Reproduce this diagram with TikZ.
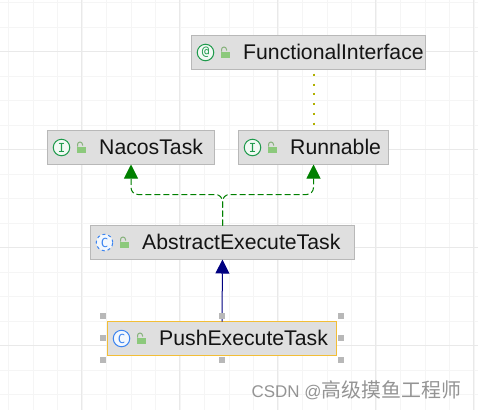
\documentclass[tikz,border=0pt]{standalone}
\usepackage{fontspec}
\setmainfont{Liberation Sans}
\newfontfamily\cjk{Noto Sans CJK SC}
\newfontfamily\ringfont{DejaVu Sans Mono}
\definecolor{boxfill}{HTML}{DFDFDF}
\definecolor{boxline}{HTML}{B8B8B8}
\definecolor{selline}{HTML}{F2BE37}
\definecolor{gridminor}{HTML}{F5F5F5}
\definecolor{gridmajor}{HTML}{E9E9E9}
\definecolor{implgreen}{HTML}{008000}
\definecolor{extnavy}{HTML}{000080}
\definecolor{annotolive}{HTML}{B0B000}
\definecolor{ringgreen}{HTML}{1F9A4C}
\definecolor{ringblue}{HTML}{3D85F0}
\definecolor{lockgreen}{HTML}{8CC97C}
\usetikzlibrary{arrows.meta}
\tikzset{
  classbox/.style={draw=boxline,fill=boxfill,line width=1bp,minimum height=34bp,inner sep=0pt,outer sep=0pt},
  classname/.style={anchor=base west,inner sep=0pt,font=\fontsize{21.3}{24}\selectfont,text=black!92},
  ring/.style={circle,line width=1bp,minimum size=16.5bp,inner sep=0pt,font=\ringfont\fontsize{12.5}{12}\selectfont},
  ifacering/.style={ring,draw=ringgreen,fill=ringgreen!6,text=ringgreen},
  classring/.style={ring,draw=ringblue,fill=ringblue!6,text=ringblue},
  handle/.style={fill=boxline,minimum size=6bp,inner sep=0pt},
  impl/.style={implgreen,line width=1bp,dash pattern=on 6bp off 3bp,rounded corners=7bp},
  unlocked/.pic={
    \fill[lockgreen] (29,-1) rectangle (38,5);
    \draw[lockgreen!70!gray,line width=1bp] (30,-1) -- (30,-3) arc[start angle=180,end angle=360,radius=2.5] -- (35,-2);
  }
}
\begin{document}
\begin{tikzpicture}[x=1bp,y=-1bp,>=Stealth]
\useasboundingbox (0,0) rectangle (478,410);
\fill[white] (0,0) rectangle (478,410);
% background grid
\foreach \n in {0,...,19} \draw[gridminor,line width=1bp] ({8.5+24.5*\n},0) -- ({8.5+24.5*\n},410);
\foreach \n in {0,...,16} \draw[gridminor,line width=1bp] (0,{2.5+24.5*\n}) -- (478,{2.5+24.5*\n});
\foreach \n in {0,...,4} \draw[gridmajor,line width=1bp] ({81.5+98*\n},0) -- ({81.5+98*\n},410);
\foreach \n in {0,...,3} \draw[gridmajor,line width=1bp] (0,{51.5+98*\n}) -- (478,{51.5+98*\n});
% classes
\node[classbox,minimum width=234bp] (FI) at (308.5,52.5) {};
\node[classbox,minimum width=150bp] (RN) at (313.5,147.5) {};
\node[classbox,minimum width=167bp] (NT) at (131,147.5) {};
\node[classbox,minimum width=264bp] (AT) at (222.5,242.5) {};
\node[classbox,draw=selline,minimum width=229bp] (PT) at (222,338.5) {};
\node[classname] (FIname) at ([shift={(51.5,7)}]FI.west) {FunctionalInterface};
\node[classname] (RNname) at ([shift={(51.5,7)}]RN.west) {Runnable};
\node[classname] (NTname) at ([shift={(51.5,7)}]NT.west) {NacosTask};
\node[classname] (ATname) at ([shift={(51.5,7)}]AT.west) {AbstractExecuteTask};
\node[classname] (PTname) at ([shift={(51.5,7)}]PT.west) {PushExecuteTask};
% kind and visibility icons
\node[ifacering] (FIring) at ([xshift=14bp]FI.west) {@};
\node[ifacering] (RNring) at ([xshift=14bp]RN.west) {I};
\node[ifacering] (NTring) at ([xshift=14bp]NT.west) {I};
\node[classring,dashed] (ATring) at ([xshift=14bp]AT.west) {C};
\node[classring] (PTring) at ([xshift=14bp]PT.west) {C};
\foreach \cls in {FI,RN,NT,AT,PT} \pic at (\cls.west) {unlocked};
% connectors
\coordinate (fork) at (AT.north |- 0,194.5);
\draw[impl,-{Triangle[width=14bp,length=14bp]}] (AT.north) -- (fork) -| (NT.south);
\draw[impl,-{Triangle[width=14bp,length=14bp]}] (AT.north) -- (fork) -| (RN.south);
\draw[extnavy,line width=1bp,-{Triangle[width=14bp,length=14bp]}] (PT.north) -- (AT.south);
\draw[annotolive,line width=2bp,dash pattern=on 2bp off 7.8bp,dash phase=5.6bp] (RN.north |- FI.south) -- (RN.north);
% selection handles
\foreach \x/\y/\name in {103/316/a,222/316/b,341/316/c,103/338/d,341/338/e,103/360/f,222/360/g,341/360/h}
  \node[handle] (sel\name) at (\x,\y) {};
\node[anchor=base west,inner sep=0pt,text=black!42,font=\fontsize{17}{20}\selectfont] (mark) at (251.5,397) {CSDN @{\cjk\fontsize{20}{20}\selectfont 高级摸鱼工程师}};
\end{tikzpicture}
\end{document}
